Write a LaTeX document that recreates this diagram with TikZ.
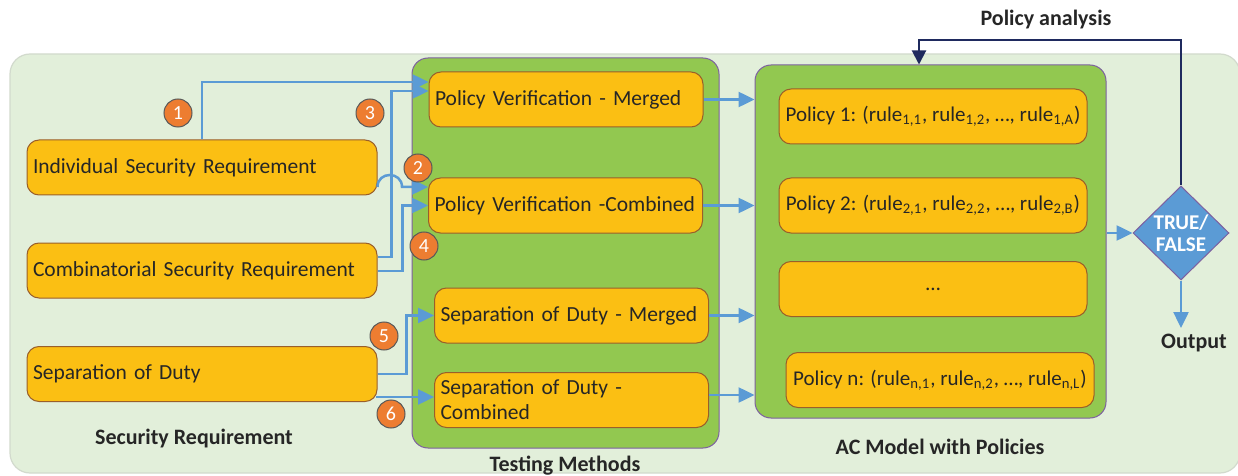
\documentclass[tikz,border=0pt]{standalone}
\usepackage{fontspec}
\setmainfont{Carlito}
\usetikzlibrary{shapes.geometric,arrows.meta,calc}

\definecolor{bgpale}{HTML}{E2EFDA}
\definecolor{bgedge}{HTML}{D2DACD}
\definecolor{panelgreen}{HTML}{92C850}
\definecolor{paneledge}{HTML}{7D60A0}
\definecolor{boxfill}{HTML}{FBBF13}
\definecolor{boxedge}{HTML}{9A5F2A}
\definecolor{flowblue}{HTML}{5B9BD5}
\definecolor{badgeorange}{HTML}{ED7D31}
\definecolor{navyline}{HTML}{1F2A5E}
\definecolor{inktext}{HTML}{262626}

\tikzset{
  box/.style={draw=boxedge, fill=boxfill, line width=0.5pt, rounded corners=6pt,
    inner sep=3pt, text=inktext, font=\fontsize{10.75}{12.5}\selectfont,
    minimum height=27.5pt},
  reqbox/.style={box, text width=169pt, align=left},
  testbox/.style={box, text width=131pt, align=left},
  polbox/.style={box, minimum width=154pt, align=center,
    font=\fontsize{10.5}{12.5}\selectfont},
  panel/.style={draw=paneledge, fill=panelgreen, line width=0.5pt, rounded corners=8pt},
  badge/.style={circle, fill=badgeorange, draw=black!65, line width=0.5pt,
    minimum size=14pt, inner sep=0pt, text=white, font=\fontsize{10}{10}\selectfont},
  flow/.style={draw=flowblue, line width=1.25pt, -{Triangle[length=8pt,width=7.5pt]}},
  loopback/.style={draw=navyline, line width=1pt, -{Triangle[length=7pt,width=7pt]}},
  caption/.style={font=\bfseries\fontsize{11}{13}\selectfont, text=inktext},
  decision/.style={diamond, fill=flowblue, draw=paneledge, line width=0.5pt,
    minimum width=48pt, minimum height=47pt, inner sep=0pt, align=center,
    text=white, font=\bfseries\fontsize{10.5}{11}\selectfont}
}

\begin{document}
\begin{tikzpicture}[x=0.5pt,y=-0.5pt]
\useasboundingbox (0,0) rectangle (1238,476);

% light background area
\draw[bgedge, fill=bgpale, line width=0.6pt, rounded corners=10pt] (10,54) rectangle (1240,473);

% panels
\node[panel, minimum width=153.5pt, minimum height=195pt] (TM) at (565.5,253) {};
\node[panel, minimum width=175.5pt, minimum height=176.5pt] (RP) at (930.5,241.5) {};

% security requirements
\node[reqbox] (I) at (202,167.5) {Individual Security Requirement};
\node[reqbox] (C) at (202,270.5) {Combinatorial Security Requirement};
\node[reqbox] (S) at (202,374) {Separation of Duty};

% testing methods
\node[testbox] (PVM) at (566,99.5) {Policy Verification - Merged};
\node[testbox] (PVC) at (565.5,205.5) {Policy Verification -Combined};
\node[testbox] (SDM) at (571.5,315.5) {Separation of Duty - Merged};
\node[testbox] (SDC) at (571.5,400) {Separation of Duty -\\Combined};

% policies
\node[polbox] (P1) at (933,116.5) {Policy 1: (rule\textsubscript{1,1}, rule\textsubscript{1,2}, …, rule\textsubscript{1,A})};
\node[polbox] (P2) at (933,205.5) {Policy 2: (rule\textsubscript{2,1}, rule\textsubscript{2,2}, …, rule\textsubscript{2,B})};
\node[polbox] (PD) at (933,289) {…};
\node[polbox] (PN) at (940,380) {Policy n: (rule\textsubscript{n,1}, rule\textsubscript{n,2}, …, rule\textsubscript{n,L})};

% decision
\node[decision] (D) at (1181,233) {TRUE/\\FALSE};

% captions
\node[caption] (capS) at (194,439) {Security Requirement};
\node[caption] (capT) at (565,466) {Testing Methods};
\node[caption] (capA) at (940,447) {AC Model with Policies};
\node[caption] (capO) at (1194,343) {Output};
\node[caption] (capP) at (1046,20) {Policy analysis};

% requirement -> testing connectors
\draw[flow] (I.north) |- ($(PVM.west)+(0,-17.5)$);
\draw[flow] ($(C.east)+(0,-13.5)$) -- ++(14,0) |- ($(PVM.west)+(0,-8.5)$);
\coordinate (hopEnd) at (402,187);
\draw[flow] ($(I.east)+(0,19.5)$) .. controls +(0,-16) and +(0,-16) .. (hopEnd)
  -- ($(PVC.west)+(0,-18.5)$);
\draw[flow] ($(C.east)+(0,0.5)$) -- ++(25,0) |- (PVC.west);
\draw[flow] (S.east) -- ++(29,0) |- (SDM.west);
\draw[flow] ($(S.east)+(-2,23)$) -- ($(SDC.west)+(0,-3)$);

% testing -> policies
\draw[flow] (PVM.east) -- (PVM.east -| RP.west);
\draw[flow] (PVC.east) -- (PVC.east -| RP.west);
\draw[flow] (SDM.east) -- (SDM.east -| RP.west);
\draw[flow] ($(SDC.east)+(0,-5)$) -- ($(SDC.east -| RP.west)+(0,-5)$);

% policies -> decision -> output
\draw[flow] (RP.east |- D.west) -- (D.west);
\coordinate (outEnd) at (1181,328);
\draw[flow] (D.south) -- (outEnd);

% policy analysis feedback
\draw[loopback] (D.north) -- ++(0,-145) -| ($(RP.north)+(-11.5,0)$);

% step numbers
\node[badge] (n1) at (178,113) {1};
\node[badge] (n2) at (418,168) {2};
\node[badge] (n3) at (370,113) {3};
\node[badge] (n4) at (424,246) {4};
\node[badge] (n5) at (384,336) {5};
\node[badge] (n6) at (391,414) {6};
\end{tikzpicture}
\end{document}
